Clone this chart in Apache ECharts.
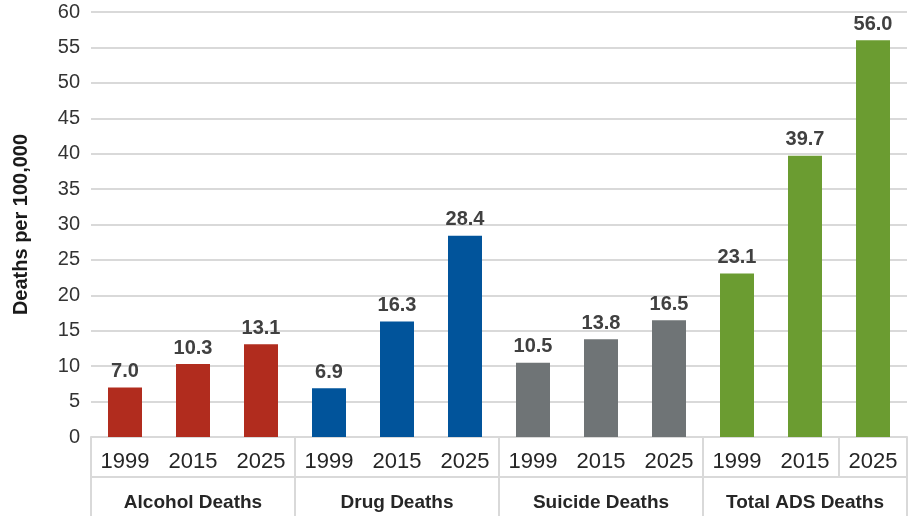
<!DOCTYPE html>
<html>
<head>
<meta charset="utf-8">
<script src="https://cdn.jsdelivr.net/npm/echarts@6/dist/echarts.min.js"></script>
<style>
  html, body { margin: 0; padding: 0; background: #fff; }
  #chart { width: 915px; height: 516px; }
</style>
</head>
<body>
<div id="chart"></div>
<script>
var groups = ["Alcohol Deaths", "Drug Deaths", "Suicide Deaths", "Total ADS Deaths"];
var years = ["1999", "2015", "2025"];
var alcohol = [7.0, 10.3, 13.1];
var drug = [6.9, 16.3, 28.4];
var suicide = [10.5, 13.8, 16.5];
var totalADS = [23.1, 39.7, 56.0];
var groupColors = ["#b12c1e", "#01549b", "#6f7476", "#6b9c31"];

var values = [alcohol, drug, suicide, totalADS];
var xYears = [];
var barData = [];
values.forEach(function (arr, g) {
  arr.forEach(function (v, i) {
    xYears.push(years[i]);
    barData.push({ value: v, itemStyle: { color: groupColors[g] } });
  });
});

var lineColor = "#d9d9d9";
var font = "'Liberation Sans', Arial, sans-serif";

var myChart = echarts.init(document.getElementById("chart"));
var option = {
  animation: false,
  grid: { left: 91, right: 8, top: 12, bottom: 79 },
  xAxis: [
    {
      type: "category",
      data: xYears,
      position: "bottom",
      axisLine: { show: true, lineStyle: { color: lineColor, width: 2 } },
      axisTick: { show: true, interval: 2, length: 40, lineStyle: { color: lineColor, width: 2 } },
      axisLabel: { interval: 0, margin: 14, fontSize: 22, color: "#262626", fontFamily: font }
    },
    {
      type: "category",
      data: groups,
      position: "bottom",
      offset: 40,
      axisLine: { show: true, lineStyle: { color: lineColor, width: 2 } },
      axisTick: { show: true, interval: 0, length: 45, lineStyle: { color: lineColor, width: 2 } },
      axisLabel: { interval: 0, margin: 16, fontSize: 19, fontWeight: "bold", color: "#262626", fontFamily: font }
    }
  ],
  yAxis: {
    type: "value",
    min: 0,
    max: 60,
    interval: 5,
    name: "Deaths per 100,000",
    nameLocation: "middle",
    nameGap: 60,
    nameTextStyle: { fontSize: 20, fontWeight: "bold", color: "#1a1a1a", fontFamily: font },
    axisLine: { show: false },
    axisTick: { show: false },
    axisLabel: { fontSize: 20, color: "#333", margin: 11, fontFamily: font },
    splitLine: { lineStyle: { color: lineColor, width: 2 } }
  },
  series: [
    {
      type: "bar",
      xAxisIndex: 0,
      data: barData,
      barWidth: 34,
      label: {
        show: true,
        position: "top",
        distance: 6,
        fontSize: 20,
        fontWeight: "bold",
        color: "#404040",
        fontFamily: font,
        formatter: function (p) { return p.value.toFixed(1); }
      }
    }
  ]
};
myChart.setOption(option);
</script>
</body>
</html>
